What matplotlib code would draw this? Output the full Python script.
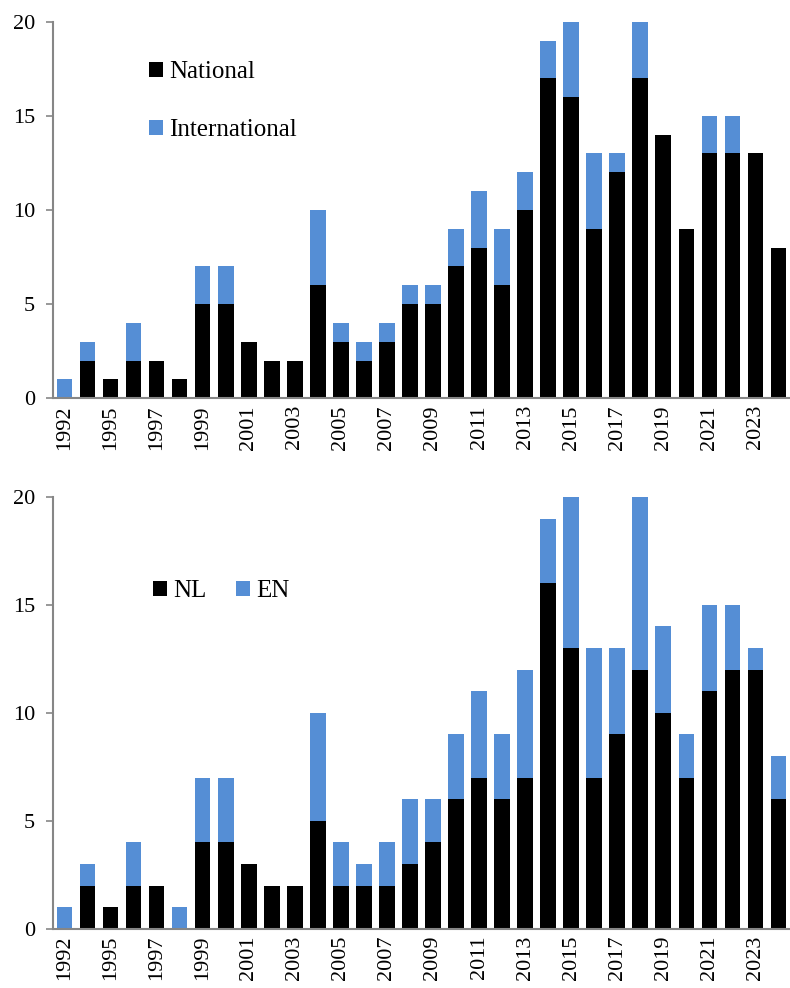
import numpy as np
import matplotlib
matplotlib.use("Agg")
import matplotlib.pyplot as plt

# ================= Data ================= #
years = [1992] + list(range(1994, 2025))
national = [0, 2, 1, 2, 2, 1, 5, 5, 3, 2, 2, 6, 3, 2, 3, 5, 5, 7, 8, 6, 10,
            17, 16, 9, 12, 17, 14, 9, 13, 13, 13, 8]
international = [1, 1, 0, 2, 0, 0, 2, 2, 0, 0, 0, 4, 1, 1, 1, 1, 1, 2, 3, 3, 2,
                 2, 4, 4, 1, 3, 0, 0, 2, 2, 0, 0]
nl = [0, 2, 1, 2, 2, 0, 4, 4, 3, 2, 2, 5, 2, 2, 2, 3, 4, 6, 7, 6, 7,
      16, 13, 7, 9, 12, 10, 7, 11, 12, 12, 6]
en = [1, 1, 0, 2, 0, 1, 3, 3, 0, 0, 0, 5, 2, 1, 2, 3, 2, 3, 4, 3, 5,
      3, 7, 6, 4, 8, 4, 2, 4, 3, 1, 2]

black = "#000000"
blue = "#558ED5"
axcol = "#868686"

plt.rcParams["font.family"] = ["Liberation Serif", "DejaVu Serif"]
plt.rcParams["font.size"] = 16

fig = plt.figure(figsize=(7.9, 9.88), dpi=100)
ax1 = fig.add_axes([0.067, 0.597, 0.933, 0.381])
ax2 = fig.add_axes([0.067, 0.060, 0.933, 0.437])

x = np.arange(len(years))
labels = [str(y) if i % 2 == 0 else "" for i, y in enumerate(years)]


def stacked(ax, lower, upper, names):
    ax.bar(x, lower, width=0.68, color=black, label=names[0])
    ax.bar(x, upper, width=0.68, bottom=lower, color=blue, label=names[1])
    ax.set_xlim(-0.5, len(years) - 0.5)
    ax.set_ylim(0, 20)
    ax.set_yticks([0, 5, 10, 15, 20])
    ax.set_xticks(x)
    ax.set_xticklabels(labels, rotation=90)
    ax.tick_params(axis="x", length=0, pad=5)
    ax.tick_params(axis="y", length=5, color=axcol, width=1.2, pad=8)
    for s in ["top", "right"]:
        ax.spines[s].set_visible(False)
    for s in ["left", "bottom"]:
        ax.spines[s].set_color(axcol)
        ax.spines[s].set_linewidth(1.5)


stacked(ax1, national, international, ["National", "International"])
stacked(ax2, nl, en, ["NL", "EN"])

ax1.legend(loc="upper left", bbox_to_anchor=(0.1, 0.955), frameon=False,
           handlelength=0.55, handleheight=0.55, handletextpad=0.25,
           labelspacing=1.45, fontsize=18)
ax2.legend(loc="upper left", bbox_to_anchor=(0.105, 0.86), frameon=False,
           ncol=2, handlelength=0.55, handleheight=0.55, handletextpad=0.25,
           columnspacing=1.2, fontsize=18)

fig.savefig("out.png", dpi=100)
